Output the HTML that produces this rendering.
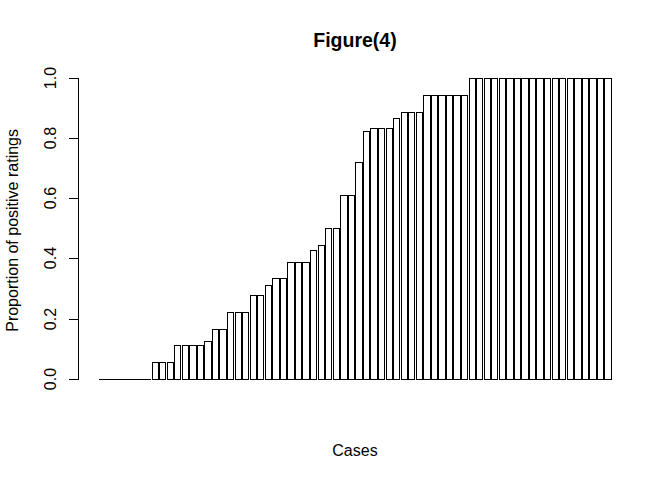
<!DOCTYPE html>
<html><head><meta charset="utf-8"><title>Figure(4)</title>
<style>
html,body{margin:0;padding:0;background:#fff}
body{width:672px;height:480px;position:relative;overflow:hidden;font-family:"Liberation Sans",sans-serif}
.b{position:absolute;box-sizing:border-box;border:1px solid #000;background:#fff}
.l{position:absolute;background:#000}
svg{position:absolute;left:0;top:0}
text{font-family:"Liberation Sans",sans-serif;fill:#000}
</style></head><body>
<div class="b" style="left:99px;top:379px;width:7px;height:1px;border:0;background:#000"></div><div class="b" style="left:106px;top:379px;width:8px;height:1px;border:0;background:#000"></div><div class="b" style="left:114px;top:379px;width:7px;height:1px;border:0;background:#000"></div><div class="b" style="left:121px;top:379px;width:8px;height:1px;border:0;background:#000"></div><div class="b" style="left:129px;top:379px;width:7px;height:1px;border:0;background:#000"></div><div class="b" style="left:136px;top:379px;width:8px;height:1px;border:0;background:#000"></div><div class="b" style="left:144px;top:379px;width:7px;height:1px;border:0;background:#000"></div><div class="b" style="left:152px;top:362px;width:7px;height:18px"></div><div class="b" style="left:159px;top:362px;width:7px;height:18px"></div><div class="b" style="left:167px;top:362px;width:7px;height:18px"></div><div class="b" style="left:174px;top:345px;width:7px;height:35px"></div><div class="b" style="left:182px;top:345px;width:7px;height:35px"></div><div class="b" style="left:189px;top:345px;width:8px;height:35px"></div><div class="b" style="left:197px;top:345px;width:7px;height:35px"></div><div class="b" style="left:204px;top:341px;width:8px;height:39px"></div><div class="b" style="left:212px;top:329px;width:7px;height:51px"></div><div class="b" style="left:219px;top:329px;width:8px;height:51px"></div><div class="b" style="left:227px;top:312px;width:7px;height:68px"></div><div class="b" style="left:235px;top:312px;width:7px;height:68px"></div><div class="b" style="left:242px;top:312px;width:7px;height:68px"></div><div class="b" style="left:250px;top:295px;width:7px;height:85px"></div><div class="b" style="left:257px;top:295px;width:7px;height:85px"></div><div class="b" style="left:265px;top:285px;width:7px;height:95px"></div><div class="b" style="left:272px;top:278px;width:8px;height:102px"></div><div class="b" style="left:280px;top:278px;width:7px;height:102px"></div><div class="b" style="left:287px;top:262px;width:8px;height:118px"></div><div class="b" style="left:295px;top:262px;width:7px;height:118px"></div><div class="b" style="left:302px;top:262px;width:8px;height:118px"></div><div class="b" style="left:310px;top:250px;width:7px;height:130px"></div><div class="b" style="left:318px;top:245px;width:7px;height:135px"></div><div class="b" style="left:325px;top:228px;width:7px;height:152px"></div><div class="b" style="left:333px;top:228px;width:7px;height:152px"></div><div class="b" style="left:340px;top:195px;width:8px;height:185px"></div><div class="b" style="left:348px;top:195px;width:7px;height:185px"></div><div class="b" style="left:355px;top:162px;width:8px;height:218px"></div><div class="b" style="left:363px;top:131px;width:7px;height:249px"></div><div class="b" style="left:370px;top:128px;width:8px;height:252px"></div><div class="b" style="left:378px;top:128px;width:7px;height:252px"></div><div class="b" style="left:386px;top:128px;width:7px;height:252px"></div><div class="b" style="left:393px;top:118px;width:7px;height:262px"></div><div class="b" style="left:401px;top:112px;width:7px;height:268px"></div><div class="b" style="left:408px;top:112px;width:7px;height:268px"></div><div class="b" style="left:416px;top:112px;width:7px;height:268px"></div><div class="b" style="left:423px;top:95px;width:8px;height:285px"></div><div class="b" style="left:431px;top:95px;width:7px;height:285px"></div><div class="b" style="left:438px;top:95px;width:8px;height:285px"></div><div class="b" style="left:446px;top:95px;width:7px;height:285px"></div><div class="b" style="left:453px;top:95px;width:8px;height:285px"></div><div class="b" style="left:461px;top:95px;width:7px;height:285px"></div><div class="b" style="left:469px;top:78px;width:7px;height:302px"></div><div class="b" style="left:476px;top:78px;width:7px;height:302px"></div><div class="b" style="left:484px;top:78px;width:7px;height:302px"></div><div class="b" style="left:491px;top:78px;width:7px;height:302px"></div><div class="b" style="left:499px;top:78px;width:7px;height:302px"></div><div class="b" style="left:506px;top:78px;width:8px;height:302px"></div><div class="b" style="left:514px;top:78px;width:7px;height:302px"></div><div class="b" style="left:521px;top:78px;width:8px;height:302px"></div><div class="b" style="left:529px;top:78px;width:7px;height:302px"></div><div class="b" style="left:536px;top:78px;width:8px;height:302px"></div><div class="b" style="left:544px;top:78px;width:7px;height:302px"></div><div class="b" style="left:552px;top:78px;width:7px;height:302px"></div><div class="b" style="left:559px;top:78px;width:7px;height:302px"></div><div class="b" style="left:567px;top:78px;width:7px;height:302px"></div><div class="b" style="left:574px;top:78px;width:8px;height:302px"></div><div class="b" style="left:582px;top:78px;width:7px;height:302px"></div><div class="b" style="left:589px;top:78px;width:8px;height:302px"></div><div class="b" style="left:597px;top:78px;width:7px;height:302px"></div><div class="b" style="left:604px;top:78px;width:8px;height:302px"></div>
<div class="l" style="left:78px;top:78px;width:1px;height:302px"></div><div class="l" style="left:69px;top:379px;width:10px;height:1px"></div><div class="l" style="left:69px;top:319px;width:10px;height:1px"></div><div class="l" style="left:69px;top:258px;width:10px;height:1px"></div><div class="l" style="left:69px;top:198px;width:10px;height:1px"></div><div class="l" style="left:69px;top:138px;width:10px;height:1px"></div><div class="l" style="left:69px;top:78px;width:10px;height:1px"></div>
<svg width="672" height="480" viewBox="0 0 672 480">
<text x="355" y="46.7" text-anchor="middle" font-size="19.5" font-weight="bold">Figure(4)</text>
<text x="355" y="456" text-anchor="middle" font-size="16">Cases</text>
<text transform="translate(17.5 230.4) rotate(-90)" text-anchor="middle" font-size="16">Proportion of positive ratings</text>
<text transform="translate(55.6 379.0) rotate(-90)" text-anchor="middle" font-size="16">0.0</text><text transform="translate(55.6 319.0) rotate(-90)" text-anchor="middle" font-size="16">0.2</text><text transform="translate(55.6 258.0) rotate(-90)" text-anchor="middle" font-size="16">0.4</text><text transform="translate(55.6 198.0) rotate(-90)" text-anchor="middle" font-size="16">0.6</text><text transform="translate(55.6 138.0) rotate(-90)" text-anchor="middle" font-size="16">0.8</text><text transform="translate(55.6 78.0) rotate(-90)" text-anchor="middle" font-size="16">1.0</text>
</svg>
</body></html>
